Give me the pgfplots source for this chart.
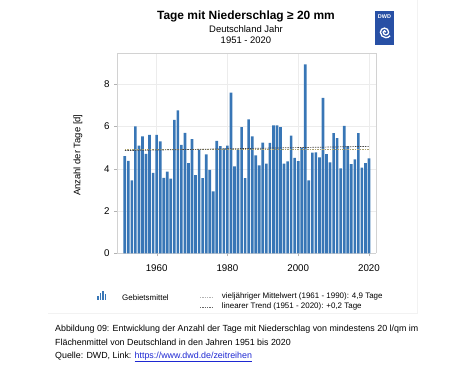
\documentclass[border=0pt]{standalone}
\usepackage{pgfplots}
\pgfplotsset{compat=1.18}
\usepackage{fontspec}
\setmainfont{Liberation Sans}
\definecolor{barblue}{RGB}{56,118,182}
\definecolor{meanc}{RGB}{170,160,110}
\definecolor{trendc}{RGB}{70,70,70}
\definecolor{logoblue}{RGB}{40,80,165}
\definecolor{linkc}{RGB}{30,40,210}
\begin{document}
\begin{tikzpicture}[x=1bp,y=1bp]
\path (0,0) rectangle (474,377);
% faint chart frame
\draw[gray!10] (48,377-313) -- (417,377-313) -- (417,377);
\begin{axis}[
  at={(117bp,123.7bp)}, anchor=south west,
  scale only axis, width=258.7bp, height=200.3bp,
  xmin=1948.8, xmax=2021.9, ymin=0, ymax=9.46,
  xtick={1960,1980,2000,2020}, ytick={0,2,4,6,8},
  /pgf/number format/set thousands separator={},
  /pgf/number format/assume math mode=true,
  ticklabel style={font=\fontsize{9.8}{11}\selectfont},
  xticklabel style={yshift=-5bp},
  yticklabel style={xshift=-1bp},
  axis line style={gray!35},
  grid=major, grid style={gray!15},
  tick style={gray!60}, tick align=outside, major tick length=3bp,
  axis x line*=bottom, axis y line*=left,
  clip=false,
]
\draw[gray!35] (rel axis cs:0,1) -- (rel axis cs:1,1) -- (rel axis cs:1,0);
\addplot[ybar, bar width=0.75, fill=barblue, draw=none] coordinates {
(1951,4.60) (1952,4.38) (1953,3.45) (1954,6.00) (1955,5.10) (1956,5.53) (1957,4.71) (1958,5.60) (1959,3.81) (1960,5.60)
(1961,5.29) (1962,3.57) (1963,3.87) (1964,3.54) (1965,6.31) (1966,6.76) (1967,5.13) (1968,5.70) (1969,4.27) (1970,5.40)
(1971,3.70) (1972,4.91) (1973,3.56) (1974,4.68) (1975,3.95) (1976,2.93) (1977,5.32) (1978,5.07) (1979,4.96) (1980,5.09)
(1981,7.60) (1982,4.11) (1983,4.91) (1984,5.97) (1985,3.56) (1986,6.33) (1987,5.53) (1988,4.63) (1989,4.16) (1990,5.24)
(1991,4.25) (1992,5.23) (1993,6.05) (1994,6.05) (1995,5.97) (1996,4.25) (1997,4.35) (1998,5.57) (1999,4.52) (2000,4.36)
(2001,4.99) (2002,8.93) (2003,3.45) (2004,4.76) (2005,4.77) (2006,4.54) (2007,7.35) (2008,4.69) (2009,4.30) (2010,5.69)
(2011,5.45) (2012,4.02) (2013,6.03) (2014,5.07) (2015,4.22) (2016,4.44) (2017,5.69) (2018,4.06) (2019,4.27) (2020,4.49)
};
\addplot[meanc, line width=0.7bp, dash pattern=on 1.5bp off 1bp] coordinates {(1951,4.9) (2020,4.9)};
\addplot[trendc, line width=0.7bp, dash pattern=on 1.5bp off 1bp] coordinates {(1951,4.86) (2020,5.06)};
\end{axis}
% titles
\node[font=\fontsize{12}{14}\selectfont\bfseries] at (246,377-16) {Tage mit Niederschlag ≥ 20 mm};
\node[font=\fontsize{9.5}{11}\selectfont] at (246,377-29) {Deutschland Jahr};
\node[font=\fontsize{9.5}{11}\selectfont] at (246,377-40) {1951 - 2020};
% y label
\node[font=\fontsize{9.5}{11}\selectfont, rotate=90] at (78,377-155) {Anzahl der Tage [d]};
% logo
\fill[logoblue] (375,377-11) rectangle (394,377-45);
\node[text=white, font=\fontsize{5.5}{6}\selectfont\bfseries, inner sep=0] at (384.5,377-16.5) {DWD};
\begin{scope}[white, line width=1.3bp]
\draw (384.5,377-32) ++(0:1.3) arc (0:180:1.3) arc (180:360:2.7) arc (0:180:4.1) arc (180:320:5.5);
\end{scope}
% legend
\fill[barblue] (97,377-300) rectangle (98.8,377-296);
\fill[barblue] (99.5,377-300) rectangle (101.3,377-293);
\fill[barblue] (102,377-300) rectangle (103.8,377-290.5);
\fill[barblue] (104.5,377-300) rectangle (106.3,377-294);
\node[anchor=west, font=\fontsize{8}{9}\selectfont, inner sep=0] at (122,377-297.5) {Gebietsmittel};
\draw[gray!60, line width=0.6bp, dash pattern=on 1.3bp off 1bp] (200,377-296.7) -- (213,377-296.7);
\draw[gray!80!black, line width=0.6bp, dash pattern=on 1.3bp off 1bp] (200,377-306.7) -- (213,377-306.7);
\node[anchor=west, font=\fontsize{8}{9}\selectfont, inner sep=0] at (221.7,377-296.7) {vieljähriger Mittelwert (1961 - 1990): 4,9 Tage};
\node[anchor=west, font=\fontsize{8}{9}\selectfont, inner sep=0] at (221.7,377-306.7) {linearer Trend (1951 - 2020): +0,2 Tage};
% caption
\node[anchor=west, font=\fontsize{8.9}{10}\selectfont, inner sep=0] at (55,377-329) {Abbildung 09: Entwicklung der Anzahl der Tage mit Niederschlag von mindestens 20 l/qm im};
\node[anchor=west, font=\fontsize{8.9}{10}\selectfont, inner sep=0] at (55,377-341.7) {Flächenmittel von Deutschland in den Jahren 1951 bis 2020};
\node[anchor=west, font=\fontsize{8.9}{10}\selectfont, inner sep=0] at (55,377-356.7) {Quelle: DWD, Link: \textcolor{linkc}{\underline{https://www.dwd.de/zeitreihen}}};
\end{tikzpicture}
\end{document}
